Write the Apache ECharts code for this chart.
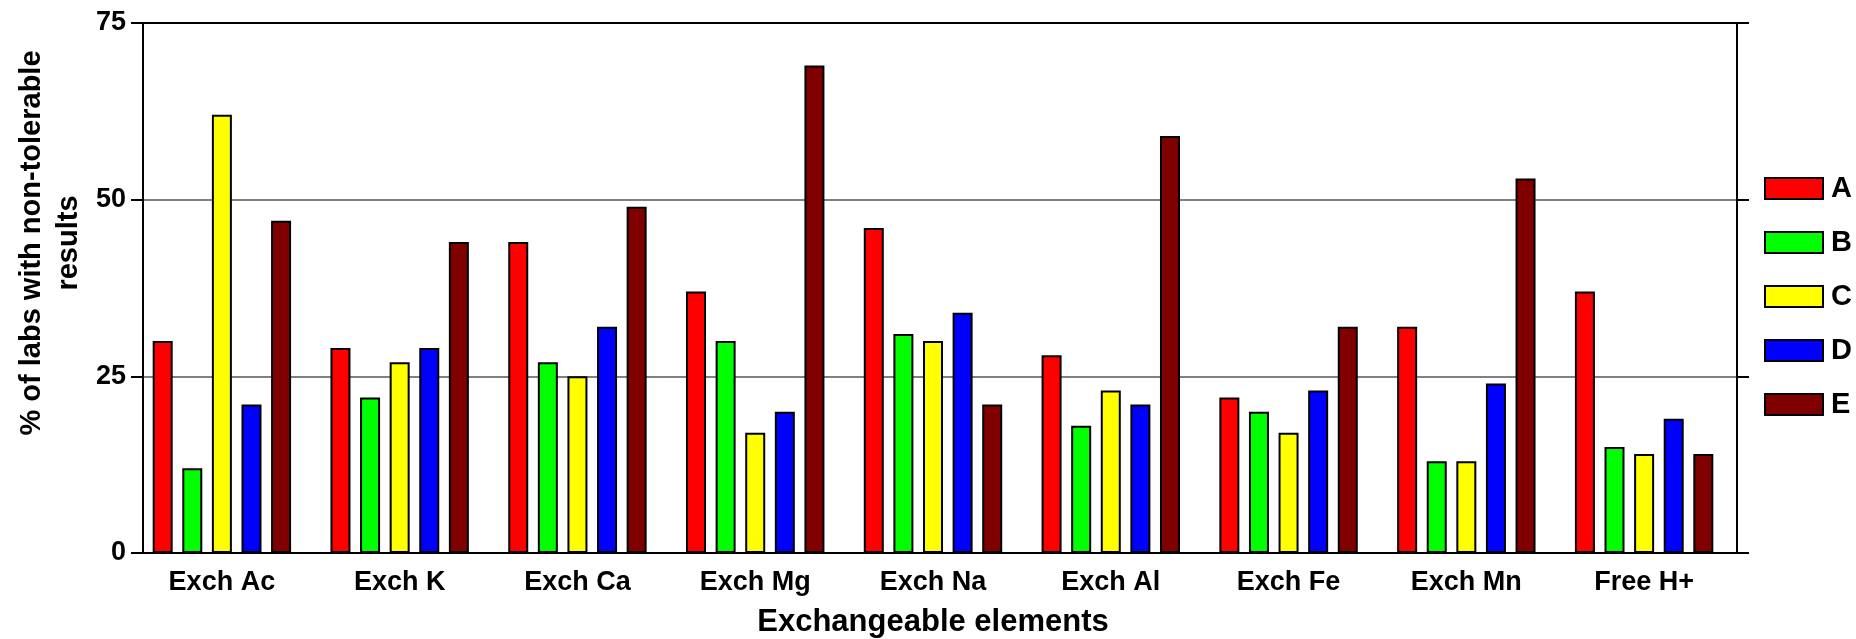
<!DOCTYPE html>
<html>
<head>
<meta charset="utf-8">
<script src="https://cdn.jsdelivr.net/npm/echarts@6/dist/echarts.min.js"></script>
<style>
html,body{margin:0;padding:0;background:#fff;}
#chart{width:1856px;height:639px;}
</style>
</head>
<body>
<div id="chart"></div>
<script>
const categories = ['Exch Ac','Exch K','Exch Ca','Exch Mg','Exch Na','Exch Al','Exch Fe','Exch Mn','Free H+'];
const seriesA = [30, 29, 44, 37, 46, 28, 22, 32, 37];
const seriesB = [12, 22, 27, 30, 31, 18, 20, 13, 15];
const seriesC = [62, 27, 25, 17, 30, 23, 17, 13, 14];
const seriesD = [21, 29, 32, 20, 34, 21, 23, 24, 19];
const seriesE = [47, 44, 49, 69, 21, 59, 32, 53, 14];
const seriesNames = ['A','B','C','D','E'];
const yTicks = [0, 25, 50, 75];
const xTitle = 'Exchangeable elements';
const yTitle = '% of labs with non-tolerable\nresults';

const colors = ['#ff0000','#00ff00','#ffff00','#0000ff','#800000'];
const FONT = '"Liberation Sans", Arial, sans-serif';
const allData = [seriesA, seriesB, seriesC, seriesD, seriesE];

const chart = echarts.init(document.getElementById('chart'), null, {renderer:'canvas'});
const gridTop = 23, gridBottom = 86;

chart.setOption({
  animation: false,
  backgroundColor: '#fff',
  color: colors,
  grid: [
    {left: 133, right: 123, top: gridTop, bottom: gridBottom, containLabel: false, outerBoundsMode: 'none'},
    {left: 143, right: 119, top: gridTop, bottom: gridBottom, containLabel: false, outerBoundsMode: 'none',
     show: true, borderColor: '#000', borderWidth: 2, backgroundColor: 'transparent', z: 3}
  ],
  legend: {
    orient: 'vertical',
    left: 1764,
    top: 174,
    padding: 0,
    itemWidth: 58,
    itemHeight: 21,
    itemGap: 25,
    icon: 'rect',
    data: seriesNames,
    itemStyle: {borderColor: '#000', borderWidth: 2},
    textStyle: {fontFamily: FONT, fontWeight: 'bold', fontSize: 29, lineHeight: 21, color: '#000', padding: [0,0,0,3]}
  },
  xAxis: [
    {
      type: 'category', gridIndex: 0, data: categories,
      axisLine: {show: false}, axisTick: {show: false},
      axisLabel: {fontFamily: FONT, fontWeight: 'bold', fontSize: 27, color: '#000', margin: 16, interval: 0},
      name: xTitle, nameLocation: 'middle', nameGap: 54,
      nameTextStyle: {fontFamily: FONT, fontWeight: 'bold', fontSize: 31, color: '#000'}
    },
    {
      type: 'value', gridIndex: 1, min: 0, max: 1, show: true,
      axisLine: {show: false}, axisTick: {show: false}, axisLabel: {show: false}, splitLine: {show: false}
    }
  ],
  yAxis: [
    {type: 'value', gridIndex: 0, min: 0, max: 75, interval: 25, show: false},
    {
      type: 'value', gridIndex: 1, min: yTicks[0], max: yTicks[yTicks.length-1], interval: 25, position: 'left',
      axisLine: {show: true, lineStyle: {color: '#000', width: 2}},
      axisTick: {show: true, inside: false, length: 12, lineStyle: {color: '#000', width: 2}},
      axisLabel: {fontFamily: FONT, fontWeight: 'bold', fontSize: 27, color: '#000', margin: 17},
      splitLine: {show: true, lineStyle: {color: '#808080', width: 2}}
    },
    {
      type: 'value', gridIndex: 1, min: yTicks[0], max: yTicks[yTicks.length-1], interval: 25, position: 'right',
      axisLine: {show: true, lineStyle: {color: '#000', width: 2}},
      axisTick: {show: true, inside: false, length: 12, lineStyle: {color: '#000', width: 2}},
      axisLabel: {show: false},
      splitLine: {show: false}
    }
  ],
  graphic: [
    {
      type: 'text', x: 50, y: 243, rotation: Math.PI / 2,
      style: {
        text: yTitle, fontFamily: FONT, fontWeight: 'bold', fontSize: 29, lineHeight: 37,
        fill: '#000', align: 'center', verticalAlign: 'middle'
      }
    }
  ],
  series: seriesNames.map((n, i) => ({
    name: n, type: 'bar', xAxisIndex: 0, yAxisIndex: 0,
    data: allData[i],
    barWidth: 20, barGap: '48%',
    itemStyle: {color: colors[i], borderColor: '#000', borderWidth: 2},
    z: 4
  }))
});
</script>
</body>
</html>
